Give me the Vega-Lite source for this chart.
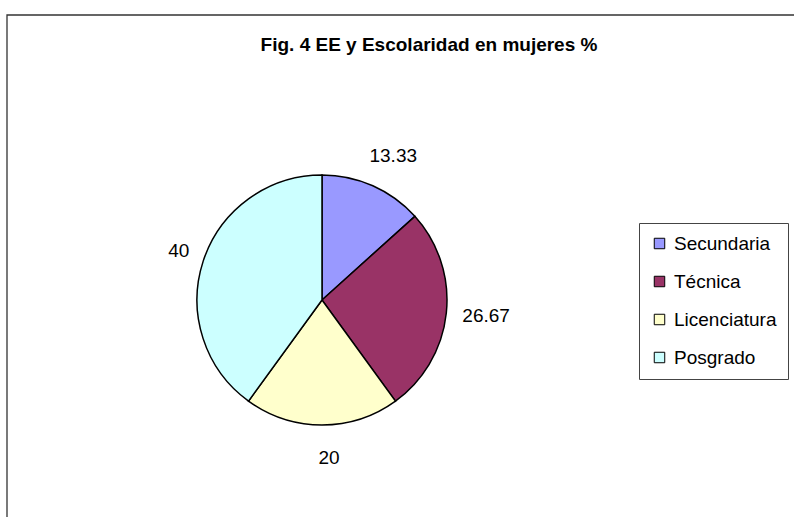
{
  "$schema": "https://vega.github.io/schema/vega-lite/v6.json",
  "autosize": "none",
  "width": 800,
  "height": 510,
  "padding": {"left": 7, "top": 15, "right": 0, "bottom": 0},
  "background": "white",
  "title": {
    "text": "Fig. 4 EE y Escolaridad en mujeres %",
    "anchor": "middle",
    "orient": "top",
    "offset": 0,
    "baseline": "bottom",
    "dx": 22,
    "dy": 60,
    "font": "Liberation Sans",
    "fontSize": 19,
    "fontWeight": "bold",
    "color": "#000"
  },
  "layer": [
    {
      "data": {"values": [{"frame": 1}]},
      "mark": {
        "type": "rect",
        "x": 0,
        "x2": "width",
        "y": 0,
        "y2": "height",
        "fill": null,
        "stroke": "#333",
        "strokeWidth": 1.3
      },
      "encoding": {}
    },
    {
      "data": {
        "values": [
          {"idx": 1, "nivel": "Secundaria", "pct": 13.33},
          {"idx": 2, "nivel": "Técnica", "pct": 26.67},
          {"idx": 3, "nivel": "Licenciatura", "pct": 20},
          {"idx": 4, "nivel": "Posgrado", "pct": 40}
        ]
      },
      "encoding": {
        "theta": {"field": "pct", "type": "quantitative", "stack": true},
        "order": {"field": "idx", "type": "quantitative"}
      },
      "layer": [
        {
          "mark": {
            "type": "arc",
            "outerRadius": 125,
            "x": {"expr": "width * 0.39375"},
            "y": {"expr": "height * 0.5588"},
            "stroke": "#000",
            "strokeWidth": 1.5
          },
          "encoding": {
            "color": {
              "field": "nivel",
              "type": "nominal",
              "sort": ["Secundaria", "Técnica", "Licenciatura", "Posgrado"],
              "scale": {
                "domain": ["Secundaria", "Técnica", "Licenciatura", "Posgrado"],
                "range": ["#9999FF", "#993366", "#FFFFCC", "#CCFFFF"]
              },
              "legend": {
                "title": null,
                "orient": "none",
                "legendX": 632,
                "legendY": 208,
                "symbolType": "square",
                "symbolSize": 110,
                "symbolStrokeColor": "#000",
                "symbolStrokeWidth": 1,
                "symbolOpacity": 1,
                "labelFont": "Liberation Sans",
                "labelFontSize": 19,
                "labelColor": "#000",
                "labelOffset": 5,
                "rowPadding": 18,
                "padding": 11,
                "strokeColor": "#444",
                "fillColor": "white"
              }
            }
          }
        },
        {
          "mark": {
            "type": "text",
            "radius": 158,
            "x": {"expr": "width * 0.39375"},
            "y": {"expr": "height * 0.5588"},
            "dx": 7,
            "font": "Liberation Sans",
            "fontSize": 19,
            "align": "center",
            "baseline": "middle",
            "color": "#000"
          },
          "encoding": {
            "text": {"field": "pct", "type": "quantitative"}
          }
        }
      ]
    }
  ]
}
